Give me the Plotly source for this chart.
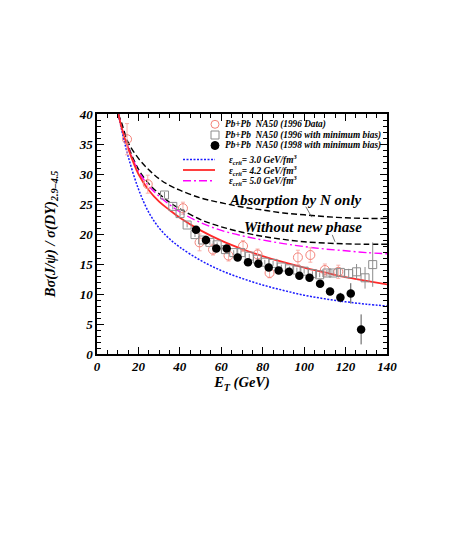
import plotly.graph_objects as go

# --- данные ---
# NA50 1996 Data (открытые кружки)
na96_x = [14.5, 24.5, 41.5, 49.5, 56.0, 63.5, 70.5, 77.5, 83.3, 97.0, 103.0, 110.0, 116.5]
na96_y = [35.8, 28.3, 24.3, 18.6, 17.4, 16.4, 18.0, 16.6, 13.5, 16.1, 16.5, 14.0, 13.7]
na96_err = [2.6, 1.5, 1.0, 1.4, 0.9, 0.9, 0.9, 0.9, 0.8, 1.2, 1.2, 1.0, 1.1]

# NA50 1996 with minimum bias (открытые квадраты)
mb96_x = [32.6, 36.6, 40.1, 43.5, 47.3, 51.0, 54.5, 58.0, 62.0, 66.0, 69.5, 73.5, 77.5,
          81.0, 85.0, 89.0, 93.0, 96.5, 100.0, 104.0, 107.5, 111.0, 114.0, 117.5, 121.5,
          125.3, 129.4, 133.1]
mb96_y = [26.5, 24.6, 23.4, 21.5, 19.9, 19.0, 18.6, 18.2, 17.4, 16.9, 16.9, 16.3, 15.8,
          15.3, 15.1, 14.5, 14.2, 14.0, 13.8, 13.4, 13.2, 13.5, 13.5, 13.6, 13.4,
          13.7, 12.7, 14.9]
mb96_err = [0.5, 0.5, 0.5, 0.4, 0.4, 0.4, 0.4, 0.4, 0.4, 0.4, 0.4, 0.4, 0.4,
            0.4, 0.4, 0.4, 0.4, 0.4, 0.4, 0.4, 0.4, 0.5, 0.5, 0.6, 0.8,
            1.3, 1.8, 3.7]

# NA50 1998 with minimum bias (чёрные точки)
mb98_x = [47.8, 52.6, 57.6, 62.6, 67.9, 72.9, 77.9, 82.9, 87.7, 92.7, 97.7, 102.6,
          107.7, 112.5, 117.5, 122.5, 127.5]
mb98_y = [20.7, 19.0, 17.6, 17.6, 16.1, 15.3, 15.05, 14.4, 13.9, 13.7, 13.05, 12.7,
          11.7, 10.4, 9.4, 10.1, 4.1]
mb98_err = [0.4, 0.4, 0.4, 0.4, 0.4, 0.4, 0.4, 0.4, 0.4, 0.4, 0.4, 0.4,
            0.5, 0.6, 0.8, 1.7, 2.5]

# теоретические кривые
curve_x = [10.3, 12, 15, 20, 25, 30, 35, 40, 50, 60, 70, 80, 90, 100, 110, 120, 130, 140]
eps30_y = [40, 37.2, 33.0, 27.5, 23.6, 21.0, 19.2, 17.8, 15.6, 13.9, 12.6, 11.5, 10.6, 9.8, 9.2, 8.7, 8.3, 8.0]
eps42_y = [40, 37.6, 34.3, 30.0, 27.3, 25.4, 24.0, 22.7, 20.6, 18.9, 17.5, 16.3, 15.3, 14.4, 13.6, 12.8, 12.2, 11.6]
eps50_y = [40, 37.7, 34.5, 30.5, 28.0, 26.3, 24.9, 23.7, 21.9, 20.6, 19.7, 19.0, 18.4, 17.9, 17.5, 17.2, 16.9, 16.7]
no_phase_y = [40, 37.8, 34.7, 30.8, 28.4, 26.7, 25.3, 24.2, 22.4, 21.2, 20.3, 19.6, 19.1, 18.7, 18.5, 18.35, 18.3, 18.3]
abs_n_y = [40, 38.4, 35.3, 32.6, 30.7, 29.2, 28.1, 27.3, 26.0, 25.2, 24.5, 24.0, 23.5, 23.2, 22.9, 22.7, 22.6, 22.6]

marker_labels = [
    "Pb+Pb  NA50 (1996 Data)",
    "Pb+Pb  NA50 (1996 with minimum bias)",
    "Pb+Pb  NA50 (1998 with minimum bias)",
]
line_labels = [
    "ε<sub>crit</sub>= 3.0 GeV/fm<sup>3</sup>",
    "ε<sub>crit</sub>= 4.2 GeV/fm<sup>3</sup>",
    "ε<sub>crit</sub>= 5.0 GeV/fm<sup>3</sup>",
]

# --- стиль ---
PAGE = 8  # отступ body в браузере
W, H = 468 - PAGE, 560 - PAGE
L, R, T, B = 97 - PAGE, 387 - PAGE, 114 - PAGE, 354 - PAGE  # рамка графика
SERIF = "Liberation Serif, Times New Roman, serif"
PINK = "#f4837a"
PINK_BAR = "#f9b0aa"
GREY = "#8c8c8c"
BLUE = "#1a1aff"
RED = "#ff2a2a"
MAGENTA = "#ff00ff"
DOT = "2px,1.5px"
DASH = "6px,3px"
DASHDOT = "8px,3px,2px,3px"


def px(xp, yp):
    """Пиксели окна -> координаты paper."""
    xp, yp = xp - PAGE, yp - PAGE
    return (xp - L) / (R - L), (B - yp) / (B - T)


def bi(size, color="black"):
    return dict(family=SERIF, size=size, color=color, weight="bold", style="italic")


fig = go.Figure()

# кривые
for y, color, dash, width in [
    (abs_n_y, "black", DASH, 1.4),
    (no_phase_y, "black", DASH, 1.4),
    (eps50_y, MAGENTA, DASHDOT, 1.4),
    (eps30_y, BLUE, DOT, 1.5),
    (eps42_y, RED, "solid", 1.8),
]:
    fig.add_trace(go.Scatter(
        x=curve_x, y=y, mode="lines", line_shape="spline",
        line=dict(color=color, width=width, dash=dash), showlegend=False,
    ))

# данные
fig.add_trace(go.Scatter(
    x=na96_x, y=na96_y, mode="markers", showlegend=False,
    error_y=dict(array=na96_err, color=PINK_BAR, thickness=1, width=2),
    marker=dict(symbol="circle-open", size=9, color=PINK, line=dict(width=1)),
))
fig.add_trace(go.Scatter(
    x=mb96_x, y=mb96_y, mode="markers", showlegend=False,
    error_y=dict(array=mb96_err, color=GREY, thickness=1, width=0),
    marker=dict(symbol="square-open", size=8, color=GREY, line=dict(width=1)),
))
fig.add_trace(go.Scatter(
    x=mb98_x, y=mb98_y, mode="markers", showlegend=False,
    error_y=dict(array=mb98_err, color="#555555", thickness=1, width=0),
    marker=dict(symbol="circle", size=8.5, color="black"),
))

# подписи кривых
fig.add_annotation(x=95.6, y=25.7, text="Absorption by N only", showarrow=False,
                   font=bi(15))
fig.add_annotation(x=99.5, y=21.2, text="Without new phase", showarrow=False,
                   font=bi(15))
fig.add_annotation(x=103.7, y=22.8, ax=100.4, ay=24.8, axref="x", ayref="y",
                   text="", showarrow=True, arrowhead=0, arrowwidth=0.8, arrowcolor="#555555")
fig.add_annotation(x=114.9, y=18.7, ax=113.3, ay=20.1, axref="x", ayref="y",
                   text="", showarrow=True, arrowhead=0, arrowwidth=0.8, arrowcolor="#555555")

# легенда (вручную, как в оригинале)
shapes = []
rows_m = [124.3, 135.0, 145.5]
for i, (label, yp) in enumerate(zip(marker_labels, rows_m)):
    x0, y0 = px(211, yp + 4)
    x1, y1 = px(219, yp - 4)
    if i == 0:
        shapes.append(dict(type="circle", xref="paper", yref="paper", x0=x0, x1=x1, y0=y0, y1=y1,
                           line=dict(color=PINK, width=1)))
    elif i == 1:
        shapes.append(dict(type="rect", xref="paper", yref="paper", x0=x0, x1=x1, y0=y0, y1=y1,
                           line=dict(color=GREY, width=1)))
    else:
        shapes.append(dict(type="circle", xref="paper", yref="paper", x0=x0, x1=x1, y0=y0, y1=y1,
                           line=dict(color="black", width=1), fillcolor="black"))
    tx, ty = px(223, yp)
    fig.add_annotation(x=tx, y=ty, xref="paper", yref="paper", text=label, showarrow=False,
                       xanchor="left", yanchor="middle", font=bi(9.3))

rows_l = [159.5, 170.0, 180.7]
for label, yp, color, dash, width in zip(line_labels, rows_l,
                                         [BLUE, RED, MAGENTA], [DOT, "solid", DASHDOT],
                                         [1.5, 1.8, 1.4]):
    x0, y0 = px(183, yp)
    x1, _ = px(215, yp)
    shapes.append(dict(type="line", xref="paper", yref="paper", x0=x0, x1=x1, y0=y0, y1=y0,
                       line=dict(color=color, width=width, dash=dash)))
    tx, ty = px(227, yp)
    fig.add_annotation(x=tx, y=ty, xref="paper", yref="paper", text=label, showarrow=False,
                       xanchor="left", yanchor="middle", font=bi(9.3))

axis_common = dict(
    showline=True, linecolor="black", linewidth=1.5, mirror="allticks",
    ticks="inside", ticklen=7, tickwidth=1, tickcolor="black",
    showgrid=False, zeroline=False, tickfont=bi(13),
)

fig.update_xaxes(
    range=[0, 140], dtick=20, tick0=0,
    minor=dict(dtick=5, ticks="inside", ticklen=4, tickcolor="black"),
    title=dict(text="E<sub>T</sub> (GeV)", font=bi(14.5), standoff=4),
    **axis_common,
)
fig.update_yaxes(
    range=[0, 40], dtick=5, tick0=0,
    minor=dict(dtick=1, ticks="inside", ticklen=4, tickcolor="black"),
    title=dict(text="Bσ(J/ψ) / σ(DY)<sub>2.9–4.5</sub>", font=bi(14.5), standoff=20),
    **axis_common,
)

fig.update_layout(
    width=W, height=H,
    margin=dict(l=L, r=W - R, t=T, b=H - B),
    plot_bgcolor="white", paper_bgcolor="white",
    shapes=shapes, showlegend=False,
)

fig.write_html("out.html")
